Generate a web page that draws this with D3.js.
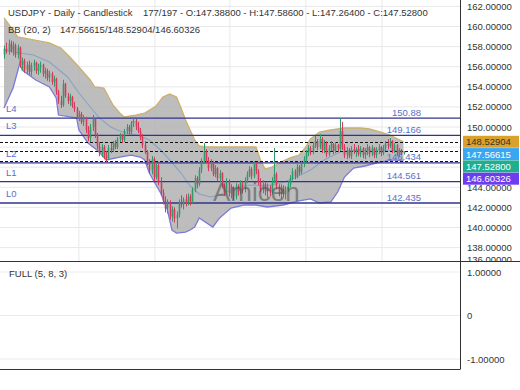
<!DOCTYPE html>
<html>
<head>
<meta charset="utf-8">
<script src="https://cdn.jsdelivr.net/npm/d3@7"></script>
<style>
  body { margin: 0; background: #fff; }
  svg { display: block; font-family: "Liberation Sans", Arial, sans-serif; }
</style>
</head>
<body>
<div id="chart"></div>
<script>
// ---- data ----
const opens = [157.2,157.8,157.5,158.3,157.6,158.1,157.2,157.9,156.2,156.6,
155.7,156.2,155.5,156.1,156.4,155.6,155.9,156.2,155.3,155.6,
154.9,155.3,154.5,154.8,153.5,152.6,152.2,154.3,153.1,152.6,
153.0,152.1,151.8,151.0,151.3,150.5,150.9,149.7,148.9,150.0,
150.8,149.2,148.1,147.4,148.0,147.1,146.9,147.9,147.7,148.4,
148.0,148.8,149.2,148.7,149.6,150.0,149.5,150.4,150.6,150.0,
149.6,149.0,148.2,147.5,146.5,145.7,146.8,145.0,146.2,144.5,
143.5,142.6,141.9,142.5,141.1,141.8,140.9,141.3,142.5,142.3,
142.8,142.4,143.1,142.6,143.8,144.9,144.3,145.7,146.6,147.6,
146.7,145.9,146.5,145.3,145.9,144.9,145.4,144.2,143.5,144.6,
143.4,144.0,143.1,144.1,143.6,144.4,143.8,144.7,145.3,145.8,
145.1,146.3,145.6,144.5,143.8,144.3,143.6,144.0,143.5,144.6,
145.3,144.1,143.4,144.0,143.3,143.8,144.3,144.9,145.6,145.1,
146.0,145.5,146.3,146.8,147.4,147.9,147.5,148.2,148.6,148.0,
148.8,147.7,148.4,147.3,147.9,148.3,147.6,148.2,147.8,149.6,
148.0,147.2,147.7,147.1,147.8,147.5,147.8,147.3,147.9,147.2,
147.6,148.0,147.3,147.9,147.2,147.7,148.0,147.4,147.9,148.3,
148.1,148.6,147.6,148.2,147.3,147.7,147.388];
const highs = [158.1,158.4,158.7,158.6,158.5,158.3,158.2,158.0,156.9,156.8,
156.5,156.6,156.4,156.7,156.5,156.3,156.5,156.3,155.9,155.8,
155.6,155.5,155.1,154.9,153.7,153.1,154.7,154.4,153.4,153.3,
153.1,152.5,152.0,151.6,151.5,151.2,151.0,150.1,150.3,151.2,
150.9,149.4,148.5,148.3,148.2,147.6,148.2,148.4,148.6,148.7,
149.0,149.4,149.3,149.8,150.3,150.2,150.6,151.0,150.8,150.5,
149.9,149.3,148.6,147.7,146.8,147.1,147.0,146.5,146.4,145.0,
143.8,143.1,142.8,142.7,142.1,142.0,141.6,142.8,143.2,143.0,
143.3,143.4,143.3,144.0,145.2,145.1,146.0,146.9,148.4,147.8,
147.0,146.8,146.6,146.2,146.0,145.7,145.5,144.4,144.9,144.8,
144.3,144.1,144.4,144.3,144.7,144.6,145.0,145.6,146.1,146.0,
146.6,146.5,145.8,144.9,144.7,144.5,144.4,144.2,145.0,147.9,
145.5,144.3,144.3,144.2,144.1,144.6,145.2,145.9,145.8,146.3,
146.2,146.6,147.1,147.7,148.2,148.1,148.5,149.1,148.8,149.3,
149.0,148.7,148.6,148.2,148.6,148.4,148.5,148.3,150.9,150.5,
148.3,148.0,147.9,148.1,148.3,148.0,148.2,148.1,148.0,147.9,
148.3,148.1,148.2,148.0,148.0,148.3,148.1,148.2,148.6,148.8,
148.9,148.7,148.4,148.3,147.9,147.8,147.586];
const lows = [156.8,157.3,157.2,157.4,157.1,156.9,156.8,155.9,155.6,155.4,
155.3,155.2,155.1,155.6,155.3,155.2,155.4,155.0,154.8,154.6,
154.5,154.2,154.0,153.2,152.3,151.9,152.0,152.9,152.3,152.1,
151.9,151.5,150.8,150.6,150.3,150.1,149.4,148.6,148.5,149.6,
148.9,147.8,147.1,147.0,146.8,146.5,146.7,147.4,147.5,147.8,
147.8,148.5,148.4,148.5,149.3,149.2,149.3,150.0,149.7,149.4,
148.7,147.9,147.3,146.2,145.4,145.3,144.6,144.8,144.2,143.2,
142.3,141.5,141.4,140.8,140.6,140.5,139.9,141.0,142.0,141.8,
142.1,142.2,142.2,142.4,143.5,143.9,144.1,145.4,146.3,146.4,
145.6,145.6,145.1,145.0,144.6,144.5,143.9,143.2,143.3,143.1,
142.9,142.7,142.8,143.2,143.3,143.4,143.5,144.4,145.0,144.8,
144.9,145.3,144.2,143.5,143.4,143.2,143.0,143.1,143.3,144.4,
143.8,143.1,142.9,143.0,142.8,143.5,144.0,144.7,144.8,144.9,
145.2,145.3,146.0,146.5,147.1,147.2,147.3,147.9,147.7,147.8,
147.4,147.4,147.0,147.1,147.6,147.3,147.4,147.5,147.6,147.7,
146.9,146.8,146.9,146.8,147.3,147.0,147.1,147.0,146.9,146.8,
147.2,147.0,147.1,146.9,146.9,147.3,147.1,147.2,147.6,147.8,
147.9,147.4,147.4,147.1,147.0,147.2,147.264];
const closes = [157.8,157.5,158.3,157.6,158.1,157.2,157.9,156.2,156.6,155.7,
156.2,155.5,156.1,156.4,155.6,155.9,156.2,155.3,155.6,154.9,
155.3,154.5,154.8,153.5,152.6,152.2,154.3,153.1,152.6,153.0,
152.1,151.8,151.0,151.3,150.5,150.9,149.7,148.9,150.0,150.8,
149.2,148.1,147.4,148.0,147.1,146.9,147.9,147.7,148.4,148.0,
148.8,149.2,148.7,149.6,150.0,149.5,150.4,150.6,150.0,149.6,
149.0,148.2,147.5,146.5,145.7,146.8,145.0,146.2,144.5,143.5,
142.6,141.9,142.5,141.1,141.8,140.9,141.3,142.5,142.3,142.8,
142.4,143.1,142.6,143.8,144.9,144.3,145.7,146.6,147.6,146.7,
145.9,146.5,145.3,145.9,144.9,145.4,144.2,143.5,144.6,143.4,
144.0,143.1,144.1,143.6,144.4,143.8,144.7,145.3,145.8,145.1,
146.3,145.6,144.5,143.8,144.3,143.6,144.0,143.5,144.6,145.3,
144.1,143.4,144.0,143.3,143.8,144.3,144.9,145.6,145.1,146.0,
145.5,146.3,146.8,147.4,147.9,147.5,148.2,148.6,148.0,148.8,
147.7,148.4,147.3,147.9,148.3,147.6,148.2,147.8,149.6,148.0,
147.2,147.7,147.1,147.8,147.5,147.8,147.3,147.9,147.2,147.6,
148.0,147.3,147.9,147.2,147.7,148.0,147.4,147.9,148.3,148.1,
148.6,147.6,148.2,147.3,147.7,147.388,147.528];

// Bollinger band outlines, read at the listed bar indices
const upperIdx = [0,4,6,13,20,25,29,33,38,40,44,48,51,53,58,62,67,70,73,76,78,80,82,84,86,89,111,113,115,118,122,126,130,133,135,139,144,150,157,161,166,170,176];
const upperVal = [160.85,159.65,158.96,158.66,158.36,157.86,156.97,155.97,154.68,153.98,153.88,152.19,151.39,151.0,151.19,151.39,152.09,152.99,153.28,152.99,151.89,150.7,149.7,148.71,148.11,148.01,148.01,146.72,145.82,146.02,146.52,146.92,147.21,148.01,148.81,149.5,149.7,149.9,149.9,149.8,149.5,149.2,148.53];
const lowerIdx = [0,4,7,8,14,20,23,24,32,33,37,42,45,51,56,60,62,64,69,72,74,76,80,82,84,86,92,95,100,106,111,116,123,130,135,139,144,147,150,154,159,166,172,176];
const lowerVal = [151.89,153.88,156.37,155.67,154.68,153.98,152.89,151.19,150.9,149.7,148.41,147.51,146.72,147.01,147.21,147.01,146.72,145.42,143.43,141.74,139.75,139.45,139.55,139.75,140.05,140.95,140.05,140.95,141.94,142.24,142.24,142.04,142.24,142.64,142.84,142.44,142.54,143.53,145.02,145.92,146.12,146.52,146.72,146.60];
const midIdx = [0,7,13,20,28,33,38,42,47,51,60,64,69,73,78,82,86,91,95,102,108,115,122,128,135,141,148,157,166,176];
const midVal = [157.66,157.36,157.16,156.47,154.98,153.38,151.99,150.9,150.0,149.6,149.1,148.71,147.71,146.72,145.42,144.13,143.33,143.03,143.23,143.93,144.23,144.13,144.43,144.93,145.72,146.72,147.51,147.71,147.71,147.57];

// last BB values: middle / upper / lower
const bbLast = [147.56615, 148.52904, 146.60326];

const levelNames = ["L0", "L1", "L2", "L3", "L4"];
const levelValues = [142.435, 144.561, 146.434, 149.166, 150.88];

const priceTicks = d3.range(136, 163, 2);
const oscTicks = [1, 0, -1];
const timeGridIdx = [33, 66.5, 99.5, 133, 166.5];

const tagValues = [148.52904, 147.56615, 147.528, 146.60326];
const tagColors = ["#d9a22e", "#3aa6f2", "#1fae8e", "#6c3cee"];
const tagText = ["#3a3326", "#ffffff", "#ffffff", "#ffffff"];

// ---- chart ----
const W = 520, H = 390;
const plotRight = 460, mainBottom = 261, oscBottom = 369;
const FS = "9.5px";

const svg = d3.select("#chart").append("svg")
    .attr("width", W)
    .attr("height", H);

const x = d3.scaleLinear().domain([0, closes.length - 1]).range([4, 403.5]);
const y = d3.scaleLinear().domain([140, 150]).range([227.5, 127]);
const yOsc = d3.scaleLinear().domain([-1, 1]).range([359, 272]);

const defs = svg.append("defs");
defs.append("clipPath").attr("id", "clipMain")
    .append("rect").attr("x", 0).attr("y", 0).attr("width", plotRight).attr("height", mainBottom);
defs.append("clipPath").attr("id", "clipAxis")
    .append("rect").attr("x", plotRight).attr("y", 0).attr("width", W - plotRight).attr("height", mainBottom);

const main = svg.append("g").attr("clip-path", "url(#clipMain)");

// grid
main.selectAll(".hgrid").data(priceTicks).join("line")
    .attr("x1", 0).attr("x2", plotRight)
    .attr("y1", d => y(d)).attr("y2", d => y(d))
    .style("stroke", "#e8e8e8").style("stroke-width", 1);
main.selectAll(".vgrid").data(timeGridIdx).join("line")
    .attr("x1", d => x(d)).attr("x2", d => x(d))
    .attr("y1", 0).attr("y2", mainBottom)
    .style("stroke", "#e8e8e8").style("stroke-width", 1);

// bollinger band
const upperPts = upperIdx.map((d, i) => [x(d), y(upperVal[i])]);
const lowerPts = lowerIdx.map((d, i) => [x(d), y(lowerVal[i])]);
const midPts = midIdx.map((d, i) => [x(d), y(midVal[i])]);
const line = d3.line();

main.append("path")
    .attr("d", line(upperPts.concat(lowerPts.slice().reverse())) + "Z")
    .style("fill", "#b2b2b2")
    .style("opacity", 0.85);
main.append("path").attr("d", line(upperPts))
    .style("fill", "none").style("stroke", "#cdb06c").style("stroke-width", 1.3);
main.append("path").attr("d", line(lowerPts))
    .style("fill", "none").style("stroke", "#7c7ad8").style("stroke-width", 1.3);
main.append("path").attr("d", line(midPts))
    .style("fill", "none").style("stroke", "#87a3c8").style("stroke-width", 1.1);

// levels
main.selectAll(".level").data(levelValues).join("line")
    .attr("x1", 0).attr("x2", plotRight)
    .attr("y1", d => y(d)).attr("y2", d => y(d))
    .style("stroke", "#33338f").style("stroke-width", 1.4);

main.selectAll(".bbdash").data(bbLast).join("line")
    .attr("x1", 0).attr("x2", plotRight)
    .attr("y1", d => Math.round(y(d)) + 0.5).attr("y2", d => Math.round(y(d)) + 0.5)
    .style("stroke", "#111").style("stroke-width", 1)
    .style("stroke-dasharray", "3,2");

// candles
const bars = d3.range(closes.length);
const col = i => closes[i] >= opens[i] ? "#2e9c6a" : "#d8385c";
main.selectAll(".wick").data(bars).join("line")
    .attr("x1", i => Math.round(x(i)) + 0.5).attr("x2", i => Math.round(x(i)) + 0.5)
    .attr("y1", i => y(highs[i])).attr("y2", i => y(lows[i]))
    .style("stroke", col).style("stroke-width", 1);
main.selectAll(".body").data(bars).join("rect")
    .attr("x", i => Math.round(x(i)) - 0.3)
    .attr("width", 1.6)
    .attr("y", i => y(Math.max(opens[i], closes[i])))
    .attr("height", i => Math.max(1, Math.abs(y(opens[i]) - y(closes[i]))))
    .style("fill", col);

// watermark
main.append("text")
    .attr("x", 213).attr("y", 201)
    .style("font-size", "26px")
    .style("fill", "#555")
    .style("opacity", 0.6)
    .text("Amicen");

// level labels
main.selectAll(".lname").data(levelValues).join("text")
    .attr("x", 6).attr("y", d => y(d) - 6)
    .style("font-size", FS).style("fill", "#5a70c6")
    .text((d, i) => levelNames[i]);
main.selectAll(".lval").data(levelValues).join("text")
    .attr("x", 421).attr("y", d => y(d) - 2.5)
    .attr("text-anchor", "end")
    .style("font-size", FS).style("fill", "#5a70c6")
    .text(d => String(d));

// titles
const n = closes.length - 1;
const f5 = v => v.toFixed(5);
svg.append("text").attr("x", 8).attr("y", 16)
    .style("font-size", FS).style("fill", "#333")
    .text("USDJPY - Daily - Candlestick");
svg.append("text").attr("x", 143).attr("y", 16)
    .style("font-size", FS).style("fill", "#333")
    .text(`177/197 - O:${f5(opens[n])} - H:${f5(highs[n])} - L:${f5(lows[n])} - C:${f5(closes[n])}`);
svg.append("text").attr("x", 8).attr("y", 33)
    .style("font-size", FS).style("fill", "#333")
    .text("BB (20, 2)");
svg.append("text").attr("x", 60).attr("y", 33)
    .style("font-size", FS).style("fill", "#333")
    .text(`${f5(bbLast[0])}/${f5(bbLast[1])}/${f5(bbLast[2])}`);

// price tags positions (stacked so they do not overlap)
let prev = -Infinity;
const tagY = tagValues.map(v => {
    const p = Math.max(y(v), prev + 12.3);
    prev = p;
    return p;
});
const tagTop = tagY[0] - 6, tagBottom = tagY[tagY.length - 1] - 2;

// right price axis (labels fully hidden behind the tags are left out)
const axis = svg.append("g").attr("clip-path", "url(#clipAxis)");
axis.selectAll(".tick").data(priceTicks.filter(d => y(d) < tagTop || y(d) > tagBottom)).join("text")
    .attr("x", 467)
    .attr("y", d => Math.min(y(d), 259))
    .attr("dominant-baseline", "central")
    .style("font-size", FS).style("fill", "#333")
    .text(d => f5(d));

const tags = svg.selectAll(".tag").data(tagValues).join("g")
    .attr("transform", (d, i) => `translate(463, ${tagY[i]})`);
tags.append("rect")
    .attr("x", 0).attr("y", -6).attr("width", 56).attr("height", 12)
    .style("fill", (d, i) => tagColors[i]);
tags.append("text")
    .attr("x", 3).attr("y", 0)
    .attr("dominant-baseline", "central")
    .style("font-size", FS)
    .style("fill", (d, i) => tagText[i])
    .text(d => f5(d));

// oscillator pane
svg.selectAll(".ogrid").data(oscTicks).join("line")
    .attr("x1", 0).attr("x2", plotRight)
    .attr("y1", d => yOsc(d)).attr("y2", d => yOsc(d))
    .style("stroke", "#ebebeb").style("stroke-width", 1);
svg.selectAll(".olab").data(oscTicks).join("text")
    .attr("x", 467).attr("y", d => yOsc(d))
    .attr("dominant-baseline", "central")
    .style("font-size", FS).style("fill", "#333")
    .text(d => d === 0 ? "0" : f5(d));
svg.append("text").attr("x", 9).attr("y", 277)
    .style("font-size", FS).style("fill", "#333")
    .text("FULL (5, 8, 3)");

// frame
svg.append("line").attr("x1", 0).attr("x2", W).attr("y1", mainBottom + 0.5).attr("y2", mainBottom + 0.5)
    .style("stroke", "#333").style("stroke-width", 1);
svg.append("line").attr("x1", 0).attr("x2", plotRight).attr("y1", oscBottom + 0.5).attr("y2", oscBottom + 0.5)
    .style("stroke", "#333").style("stroke-width", 1);
svg.append("line").attr("x1", plotRight + 0.5).attr("x2", plotRight + 0.5).attr("y1", 0).attr("y2", oscBottom + 0.5)
    .style("stroke", "#333").style("stroke-width", 1);
</script>
</body>
</html>
